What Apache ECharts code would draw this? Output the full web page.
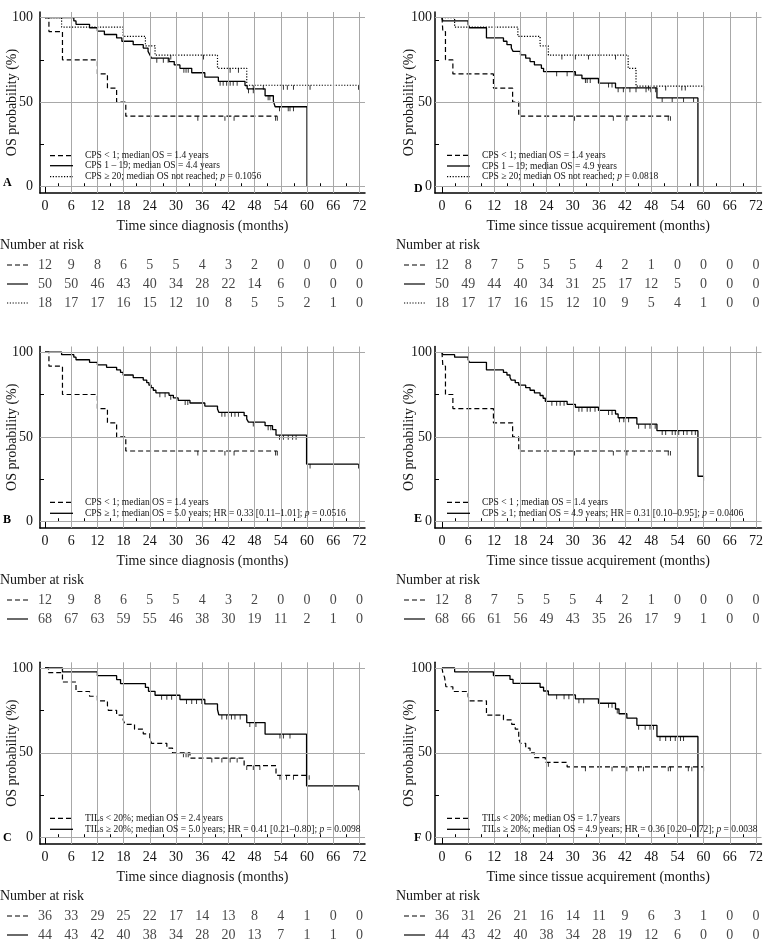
<!DOCTYPE html>
<html><head><meta charset="utf-8">
<script src="https://cdn.jsdelivr.net/npm/echarts@6.0.0/dist/echarts.min.js"></script>
<style>html,body{margin:0;padding:0;background:#fff}#c{width:763px;height:946px}</style>
</head><body><div id="c"></div><script>
// ---------- tick labels ----------
const riskMonths = [0,6,12,18,24,30,36,42,48,54,60,66,72];
const tickMonths = [0,6,12,18,24,30,36,42,48,54,60,66,72];
const gridMonths = [6,12,18,24,30,36,42,48,54,60,66,72];
const minorMonths = [3,9,15,21,27,33,39,45,51,57,63,69];
const yLabels = [0,50,100];
const yTicks = [0,25,50,75,100];

// ---------- time since diagnosis: KM steps [month, %] and censor months ----------
const cps0_dx = [[0,100],[0.9,91.7],[4,75],[12,66.7],[14.3,58.3],[16.4,50],[18.5,41.7],[53.2,41.7]];
const cps0_dx_cens = [35,41.2,43.3,52.8,53.2];
const cps119_dx = [[0,100],[6.6,98],[7.1,96],[10.2,94],[12,92],[13.6,90],[16.4,88],[17.6,86],[20.2,84],[22.5,82],[23.6,80],[24,78],[24.4,76],[28.4,74],[29.6,72],[30.9,70],[33.6,67.4],[36.6,64.8],[39.7,62.3],[45.8,59.8],[46.3,57.9],[50.4,53.8],[52.3,50.6],[52.7,47.3],[60,0]];
const cps119_dx_cens = [25.6,27.1,28.2,31.8,32.3,32.8,40.1,40.8,41.6,42.4,43.1,44,46.6,47.7,51.1,51.5,53.7,55.7,56.1,56.9];
const cps20_dx = [[0,100],[3.8,94.4],[17.9,88.9],[23,83.3],[25.2,77.8],[39.5,70],[46.2,60],[71.8,60]];
const cps20_dx_cens = [28.8,36.3,42.4,44.3,47.7,50,54.6,55.5,56.9,60.7,71.8];
const cps1_dx = [[0,100],[3.8,98.5],[6.6,97],[7.1,95.5],[10.2,94],[12,92.5],[14.1,91],[16.4,89.5],[17.3,88],[17.9,86.5],[20.2,85],[22.5,83.5],[23.3,82],[23.8,80.5],[24.3,79],[24.8,77.5],[25.4,76],[28.4,74.5],[29.4,73],[30.5,71.5],[33.2,70],[36.6,68.2],[39.5,66.5],[39.8,64.5],[45.6,62.6],[46.2,60.5],[46.6,58.7],[50.4,56.6],[52.1,54.3],[52.9,51],[59.9,34],[71.8,34]];
const cps1_dx_cens = [26.3,27.5,28.8,32.1,32.7,40.5,41.2,42,42.7,43.5,44.3,47.7,51.1,51.7,53.7,54.6,55.7,56.7,57.5,60.7,71.8];
const tilLo_dx = [[0,100],[0.8,97.2],[4,91.7],[7.1,86.1],[10.2,83.3],[12,80.6],[14.3,77.8],[14.5,75],[16.4,72.2],[17.9,69.4],[18.3,66.7],[20.5,63.9],[22.5,61.1],[24,58.3],[24.4,55.6],[27.9,52.8],[29.2,50],[33.2,46.9],[45.6,42.5],[52.9,36.7],[60.5,36.7]];
const tilLo_dx_cens = [31.7,32.3,32.8,38.2,40.5,42.4,44,46.2,47.7,49.2,53.8,55.3,56.9,60.5];
const tilHi_dx = [[0,100],[4,97.7],[12,95.4],[16.4,93.1],[17.3,90.8],[23,88.5],[23.7,86.2],[25.2,83.9],[30.9,81.4],[36.6,78.8],[39.5,75.5],[39.8,72.3],[46.2,67.8],[50.4,61],[59.9,30.5],[71.8,30.5]];
const tilHi_dx_cens = [26.7,27.9,29,32.4,33.6,34.7,35.9,40.5,41.6,42.7,43.5,44.7,46.9,48.3,53.8,54.6,56.1,71.8];

// ---------- time since tissue acquirement ----------
const cps0_ta = [[0,100],[0.2,91.7],[0.8,75],[2.5,66.7],[11.8,58.3],[16.2,50],[17.6,41.7],[52.4,41.7]];
const cps0_ta_cens = [30.4,39.3,42.4,51.9,52.4];
const cps119_ta = [[0,100],[0.2,98],[6,96],[6.3,94],[10.2,88],[14.1,86],[14.9,84],[15.9,82],[16.3,80],[18,78],[19.2,76],[20.2,74],[21.2,72],[22.8,70],[23.3,68],[30.6,66],[32.1,64],[35.9,61.3],[39.8,58.5],[49.3,52.5],[58.7,0]];
const cps119_ta_cens = [26.3,28.7,30.3,32.9,33.3,34,38.2,39,40.4,41.6,43.1,44.5,46.8,47.9,49,50.5,52.8,55.4,57.7];
const cps20_ta = [[0,100],[2.9,94.4],[17.4,88.9],[22.5,83.3],[24.4,77.8],[42.7,70],[44.5,59.5],[60,59.5]];
const cps20_ta_cens = [27.5,30.6,33.6,39.8,47.4,51.3,55,55.8,60];
const cps1_ta = [[0,100],[0.2,98.5],[2.9,97],[6,95.5],[6.3,94],[10.2,89.5],[14.1,88],[14.9,86.5],[15.6,85],[15.9,83.5],[16.8,82],[17.6,80.5],[19.2,79],[20.2,77.5],[21.2,76],[22.5,74.4],[23.2,72.8],[23.7,71],[28.7,69.2],[30.6,67.5],[35.9,65.6],[39.8,63.5],[40.4,61.3],[44.7,57.5],[49.3,53.7],[58.7,26.8],[60,26.8]];
const cps1_ta_cens = [25.2,26.3,27.1,28,31.4,32.1,33.3,34,35.1,38.2,39,40.7,41.7,42.8,45.1,46.6,47.7,48.9,50.5,51.3,52.8,53.5,54.3,55.4,56.2,57.3,58.1,60];
const tilLo_ta = [[0,100],[0.2,97.2],[0.6,94.4],[0.9,88.9],[2.5,86.1],[6,83.3],[6.3,80.6],[10.2,72.2],[14.1,69.4],[16,66.7],[16.8,63.9],[17.6,58.3],[18,55.6],[19.2,52.8],[20.2,50],[21.2,47.2],[23.7,44.4],[28.7,41.7],[60,41.7]];
const tilLo_ta_cens = [24.4,32.9,39,42.4,45.1,46.2,51.9,52.4,56.5,57.3,60];
const tilHi_ta = [[0,100],[2.9,97.7],[11.8,95.5],[15.6,93.2],[16.3,90.9],[22.5,88.6],[23.3,86.4],[24.4,84.1],[30.6,81.8],[35.9,79.2],[39.8,75.8],[40.6,73],[42.4,70.4],[44.7,66.2],[49.3,59.6],[58.7,0]];
const tilHi_ta_cens = [26.3,28,29.1,31.4,32.5,38.2,39,40.2,45.1,46.6,47.7,48.5,50,51.3,52.4,53.5,54.7,55.4];

// ---------- number at risk ----------
const riskDxCps0 = [12,9,8,6,5,5,4,3,2,0,0,0,0];
const riskDxCps119 = [50,50,46,43,40,34,28,22,14,6,0,0,0];
const riskDxCps20 = [18,17,17,16,15,12,10,8,5,5,2,1,0];
const riskDxCps1 = [68,67,63,59,55,46,38,30,19,11,2,1,0];
const riskDxTilLo = [36,33,29,25,22,17,14,13,8,4,1,0,0];
const riskDxTilHi = [44,43,42,40,38,34,28,20,13,7,1,1,0];
const riskTaCps0 = [12,8,7,5,5,5,4,2,1,0,0,0,0];
const riskTaCps119 = [50,49,44,40,34,31,25,17,12,5,0,0,0];
const riskTaCps20 = [18,17,17,16,15,12,10,9,5,4,1,0,0];
const riskTaCps1 = [68,66,61,56,49,43,35,26,17,9,1,0,0];
const riskTaTilLo = [36,31,26,21,16,14,11,9,6,3,1,0,0];
const riskTaTilHi = [44,43,42,40,38,34,28,19,12,6,0,0,0];

// ---------- legend texts ----------
const legA = ['CPS < 1; median OS = 1.4 years','CPS 1 – 19; median OS = 4.4 years','CPS ≥ 20; median OS not reached; {i|p} = 0.1056'];
const legB = ['CPS < 1; median OS = 1.4 years','CPS ≥ 1; median OS = 5.0 years; HR = 0.33 [0.11–1.01]; {i|p} = 0.0516'];
const legC = ['TILs < 20%; median OS = 2.4 years','TILs ≥ 20%; median OS = 5.0 years; HR = 0.41 [0.21–0.80]; {i|p} = 0.0098'];
const legD = ['CPS < 1; median OS = 1.4 years','CPS 1 – 19; median OS = 4.9 years','CPS ≥ 20; median OS not reached; {i|p} = 0.0818'];
const legE = ['CPS < 1 ; median OS = 1.4 years','CPS ≥ 1; median OS = 4.9 years; HR = 0.31 [0.10–0.95]; {i|p} = 0.0406'];
const legF = ['TILs < 20%; median OS = 1.7 years','TILs ≥ 20%; median OS = 4.9 years; HR = 0.36 [0.20–0.72]; {i|p} = 0.0038'];

// ---------- layout / styling ----------
const FONT = '"Liberation Serif", "Times New Roman", serif';
const TXT = '#151515';
const FS = 14, LFS = 9.5;
const YMIN = -3.7, YMAX = 103.3;
const cols = [
  {left:40, width:325, xmin:-1.145, xmax:73.28, xTitle:'Time since diagnosis (months)', nameGapY:21, labelMargin:7, narX:0, sampleX:[7,28], legLineX:[50,73], legTextX:85, letterX:3},
  {left:435, width:326.5, xmin:-1.6, xmax:73.28, xTitle:'Time since tissue acquirement (months)', nameGapY:19, labelMargin:3, narX:396, sampleX:[404,425], legLineX:[447,470], legTextX:482, letterX:414}
];
const rows = [
  {top:12, bottom:193},
  {top:346.5, bottom:528},
  {top:662.3, bottom:844}
];
const styles = {
  dash:{type:[5,3], width:1.2, dash:[5,3]},
  solid:{type:'solid', width:1.3, dash:null},
  dot:{type:[1.2,1.6], width:1.2, dash:[1.2,1.6]}
};
const panels = [
  {letter:'A', col:0, row:0, letterY:183, legY:[155.7,165.7,176.7], legend:legA,
   curves:[[cps0_dx,cps0_dx_cens,'dash'],[cps119_dx,cps119_dx_cens,'solid'],[cps20_dx,cps20_dx_cens,'dot']],
   risk:[riskDxCps0,riskDxCps119,riskDxCps20]},
  {letter:'B', col:0, row:1, letterY:520, legY:[502.3,513.3], legend:legB,
   curves:[[cps0_dx,cps0_dx_cens,'dash'],[cps1_dx,cps1_dx_cens,'solid']],
   risk:[riskDxCps0,riskDxCps1]},
  {letter:'C', col:0, row:2, letterY:838, legY:[818.3,829.3], legend:legC,
   curves:[[tilLo_dx,tilLo_dx_cens,'dash'],[tilHi_dx,tilHi_dx_cens,'solid']],
   risk:[riskDxTilLo,riskDxTilHi]},
  {letter:'D', col:1, row:0, letterY:189, legY:[155.3,166,176.7], legend:legD,
   curves:[[cps0_ta,cps0_ta_cens,'dash'],[cps119_ta,cps119_ta_cens,'solid'],[cps20_ta,cps20_ta_cens,'dot']],
   risk:[riskTaCps0,riskTaCps119,riskTaCps20]},
  {letter:'E', col:1, row:1, letterY:519, legY:[502.3,513.3], legend:legE,
   curves:[[cps0_ta,cps0_ta_cens,'dash'],[cps1_ta,cps1_ta_cens,'solid']],
   risk:[riskTaCps0,riskTaCps1]},
  {letter:'F', col:1, row:2, letterY:838, legY:[818.3,829.3], legend:legF,
   curves:[[tilLo_ta,tilLo_ta_cens,'dash'],[tilHi_ta,tilHi_ta_cens,'solid']],
   risk:[riskTaTilLo,riskTaTilHi]}
];
const RISK_OFF = 72, RISK_STEP = 19, NAR_OFF = 52;

function survAt(curve, t){ let s = curve[0][1]; for (const p of curve){ if (p[0] <= t) s = p[1]; else break; } return s; }

const grid = [], xAxis = [], yAxis = [], series = [], graphic = [];
panels.forEach((p, pi) => {
  const c = cols[p.col], r = rows[p.row];
  const gP = 2*pi, gR = 2*pi+1, ax = 3*pi, ay = 2*pi;
  grid.push({left:c.left, width:c.width, top:r.top, height:r.bottom - r.top, containLabel:false, outerBoundsMode:'none'});
  const r1 = r.bottom + RISK_OFF;
  grid.push({left:c.left, width:c.width, top:r1 - RISK_STEP/2, height:RISK_STEP*p.risk.length, containLabel:false, outerBoundsMode:'none'});
  // x axes
  xAxis.push({gridIndex:gP, type:'value', min:c.xmin, max:c.xmax, position:'bottom',
    axisLine:{show:true, onZero:false, lineStyle:{color:'#000', width:1.5}},
    axisTick:{show:true, inside:true, length:7, customValues:tickMonths, lineStyle:{color:'#000', width:1}},
    axisLabel:{show:true, customValues:tickMonths, margin:6, fontFamily:FONT, fontSize:FS, color:TXT, hideOverlap:false},
    splitLine:{show:false},
    name:c.xTitle, nameLocation:'middle', nameGap:26, nameMoveOverlap:false, nameTextStyle:{fontFamily:FONT, fontSize:FS, color:TXT}});
  xAxis.push({gridIndex:gP, type:'value', min:c.xmin, max:c.xmax, position:'bottom',
    axisLine:{show:false}, axisTick:{show:true, inside:true, length:3.5, customValues:minorMonths, lineStyle:{color:'#000', width:1}},
    axisLabel:{show:false}, splitLine:{show:false}});
  xAxis.push({gridIndex:gR, type:'value', min:c.xmin, max:c.xmax, show:false});
  // y axes
  yAxis.push({gridIndex:gP, type:'value', min:YMIN, max:YMAX, position:'left',
    axisLine:{show:true, onZero:false, lineStyle:{color:'#000', width:1.5}},
    axisTick:{show:true, inside:true, length:4, customValues:yTicks, lineStyle:{color:'#000', width:1}},
    axisLabel:{show:true, customValues:yLabels, margin:c.labelMargin, fontFamily:FONT, fontSize:FS, color:TXT},
    splitLine:{show:false},
    name:'OS probability (%)', nameLocation:'middle', nameGap:c.nameGapY, nameMoveOverlap:false, nameTextStyle:{fontFamily:FONT, fontSize:FS, color:TXT}});
  yAxis.push({gridIndex:gR, type:'category', data:p.risk.map((_, i) => 'r' + i), inverse:true, show:false});

  // gridlines
  series.push({type:'line', xAxisIndex:ax, yAxisIndex:ay, data:[], silent:true, z:1,
    markLine:{silent:true, symbol:['none','none'], label:{show:false}, animation:false,
      lineStyle:{color:'#a8a8a8', width:1, type:'solid'},
      data:[...gridMonths.map(v => ({xAxis:v})), ...yLabels.map(v => ({yAxis:v}))]}});
  // curves
  p.curves.forEach(([d, cens, st]) => {
    const s = styles[st];
    series.push({type:'line', step:'end', xAxisIndex:ax, yAxisIndex:ay, data:d, symbol:'none', z:3,
      lineStyle:{color:'#000', width:s.width, type:s.type}, emphasis:{disabled:true}, silent:true});
    series.push({type:'scatter', xAxisIndex:ax, yAxisIndex:ay, data:cens.map(t => [t, survAt(d, t)]),
      symbol:'rect', symbolSize:[1,4.5], symbolOffset:[0,2.2], itemStyle:{color:'#000'}, z:4, silent:true});
  });
  // risk table
  p.risk.forEach((vals, ri) => {
    series.push({type:'scatter', xAxisIndex:ax+2, yAxisIndex:ay+1,
      data:riskMonths.map((t, i) => [t, ri, vals[i]]), symbolSize:1, itemStyle:{color:'rgba(0,0,0,0)'},
      label:{show:true, position:'inside', formatter:q => String(q.value[2]), fontFamily:FONT, fontSize:FS, color:TXT},
      labelLayout:{hideOverlap:false}, silent:true});
    const st = styles[p.curves[ri][2]];
    const yy = r1 + ri*RISK_STEP;
    graphic.push({type:'line', shape:{x1:c.sampleX[0], y1:yy, x2:c.sampleX[1], y2:yy},
      style:{stroke:'#000', lineWidth:st.width*0.9, lineDash:st.dash}, silent:true});
  });
  graphic.push({type:'text', x:c.narX, y:r.bottom + NAR_OFF, silent:true,
    style:{text:'Number at risk', fontFamily:FONT, fontSize:FS, fill:TXT, textAlign:'left', align:'left', textVerticalAlign:'middle', verticalAlign:'middle'}});
  // in-plot legend
  p.legend.forEach((txt, li) => {
    const st = styles[p.curves[li][2]];
    const yy = p.legY[li];
    graphic.push({type:'line', shape:{x1:c.legLineX[0], y1:yy, x2:c.legLineX[1], y2:yy},
      style:{stroke:'#000', lineWidth:st.width, lineDash:st.dash}, silent:true, z:10});
    graphic.push({type:'text', x:c.legTextX, y:yy, silent:true, z:10,
      style:{text:txt, fontFamily:FONT, fontSize:LFS, fill:TXT, textAlign:'left', align:'left', textVerticalAlign:'middle', verticalAlign:'middle',
        rich:{i:{fontFamily:FONT, fontSize:LFS, fontStyle:'italic', fill:TXT}}}});
  });
  // panel letter
  graphic.push({type:'text', x:c.letterX, y:p.letterY, silent:true,
    style:{text:p.letter, fontFamily:FONT, fontSize:12, fontWeight:'bold', fill:'#000', textAlign:'left', align:'left', textVerticalAlign:'middle', verticalAlign:'middle'}});
});

const chart = echarts.init(document.getElementById('c'), null, {renderer:'canvas'});
chart.setOption({animation:false, backgroundColor:'#fff', grid, xAxis, yAxis, series, graphic});
</script></body></html>
